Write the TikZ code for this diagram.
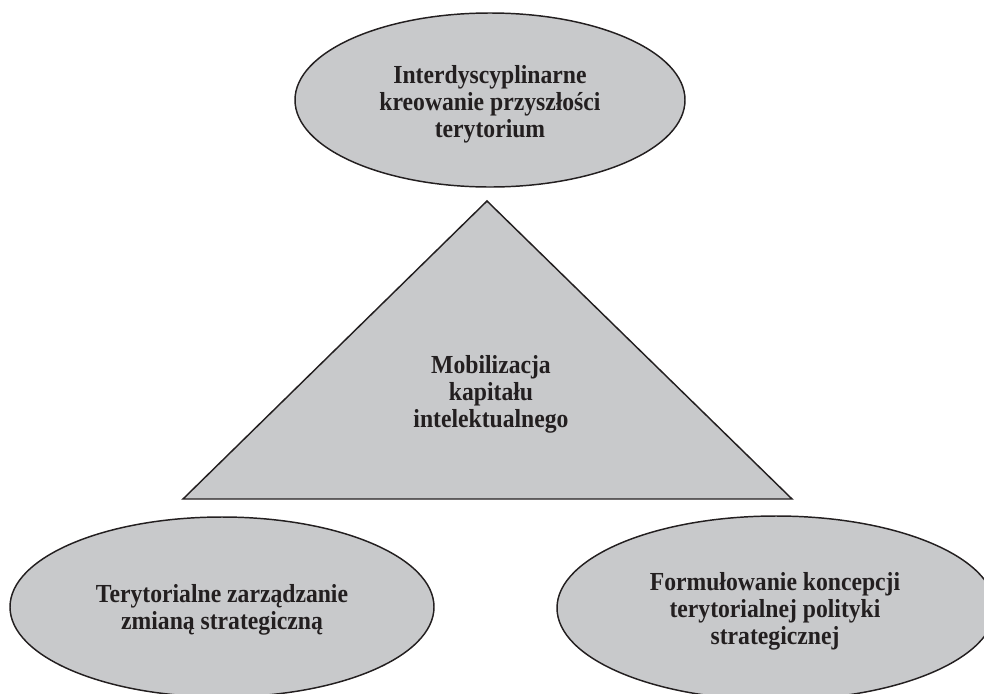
\documentclass[tikz,border=0pt]{standalone}
\usepackage{fontspec}
\setmainfont{Liberation Serif}
\newfontfamily\narrowserif[FakeStretch=0.91]{Liberation Serif}
\usetikzlibrary{shapes.geometric}
\definecolor{shapefill}{HTML}{C8C9CB}
\definecolor{inkc}{HTML}{231F20}
\tikzset{
  blob/.style={ellipse, draw=inkc, fill=shapefill, line width=1.1pt, inner sep=0pt},
  lbl/.style={align=center, text=inkc, inner sep=0pt, font=\narrowserif\fontsize{19.5}{20.25}\selectfont\bfseries},
  tri/.style={draw=inkc, fill=shapefill, line width=1.1pt, line join=miter}
}
\begin{document}
\begin{tikzpicture}[x=0.75pt, y=-0.75pt]
\useasboundingbox (0,0) rectangle (984,693);
\clip (0,0) rectangle (984,693);
% top ellipse
\node[blob, minimum width=292.5pt, minimum height=130.5pt] (topE) at (490,100) {};
\node[lbl] (topT) at (490,104.5) {Interdyscyplinarne\\kreowanie przyszłości\\terytorium};
% triangle
\coordinate (apex) at (487,201);
\coordinate (bl) at (183,499);
\coordinate (br) at (792,499);
\draw[tri] (apex) -- (br) -- (bl) -- cycle;
\node[lbl] (triT) at (491,394) {Mobilizacja\\kapitału\\intelektualnego};
% bottom-left ellipse
\node[blob, minimum width=318pt, minimum height=135pt] (leftE) at (222,607) {};
\node[lbl] (leftT) at (222,610) {Terytorialne zarządzanie\\zmianą strategiczną};
% bottom-right ellipse
\node[blob, minimum width=328.5pt, minimum height=138pt] (rightE) at (776,608) {};
\node[lbl] (rightT) at (775,611) {Formułowanie koncepcji\\terytorialnej polityki\\strategicznej};
\end{tikzpicture}
\end{document}
